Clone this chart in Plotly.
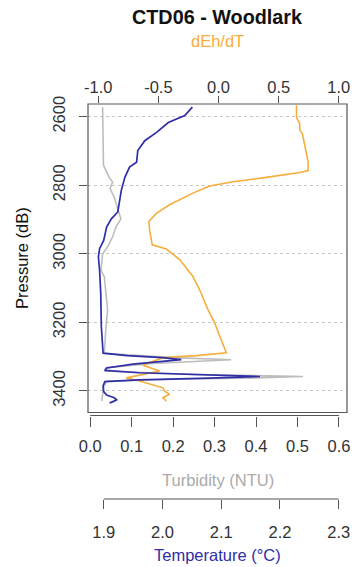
import plotly.graph_objects as go

# ---------------- data ----------------
# Temperature (deg C) profile
temp_p = [2572, 2597, 2617, 2646, 2670, 2699, 2733, 2747, 2777, 2815, 2878, 2898,
          2922, 2961, 2985, 3009, 3048, 3116, 3213, 3290, 3297, 3303, 3309, 3314,
          3322, 3333, 3340, 3347, 3353, 3358, 3363, 3368, 3373, 3385, 3402, 3412,
          3420, 3426, 3432, 3435]
temp_v = [2.051, 2.038, 2.010, 1.990, 1.970, 1.958, 1.956, 1.944, 1.936, 1.930, 1.924, 1.913,
          1.905, 1.900, 1.893, 1.891, 1.893, 1.895, 1.896, 1.899, 1.940, 2.000, 2.032, 2.000,
          1.950, 1.905, 1.902, 1.960, 2.080, 2.166, 2.080, 1.960, 1.902, 1.899, 1.900, 1.905,
          1.918, 1.922, 1.915, 1.910]

# Turbidity (NTU) profile
turb_p = [2572, 2700, 2740, 2747, 2777, 2791, 2810, 2835, 2864, 2898, 2922, 2951,
          2980, 3000, 3048, 3067, 3164, 3213, 3290, 3303, 3309, 3315, 3320, 3332,
          3342, 3352, 3358, 3362, 3366, 3372, 3390, 3410, 3430]
turb_v = [0.030, 0.032, 0.032, 0.034, 0.046, 0.054, 0.048, 0.058, 0.066, 0.074, 0.062, 0.054,
          0.042, 0.030, 0.026, 0.034, 0.042, 0.038, 0.034, 0.200, 0.340, 0.250, 0.150, 0.040,
          0.035, 0.250, 0.513, 0.400, 0.200, 0.040, 0.032, 0.030, 0.028]

# dEh/dT profile
dehdt_p = [2567, 2601, 2610, 2620, 2639, 2649, 2668, 2697, 2717, 2732, 2757, 2763,
           2777, 2790, 2802, 2814, 2823, 2857, 2882, 2906, 2930, 2974, 2986, 3017,
           3066, 3105, 3163, 3202, 3241, 3289, 3297, 3303, 3325, 3342, 3362, 3371,
           3391, 3401, 3410, 3420, 3430]
dehdt_v = [0.648, 0.648, 0.660, 0.675, 0.675, 0.697, 0.708, 0.725, 0.731, 0.745, 0.745, 0.675,
           0.398, 0.120, -0.074, -0.157, -0.213, -0.407, -0.517, -0.579, -0.573, -0.551, -0.434, -0.323,
           -0.213, -0.157, -0.088, -0.032, 0.010, 0.065, -0.184, -0.462, -0.629, -0.490, -0.767, -0.656,
           -0.462, -0.448, -0.407, -0.462, -0.434]

p_ticks = [2600, 2800, 3000, 3200, 3400]
dehdt_ticks = [-1.0, -0.5, 0.0, 0.5, 1.0]
turb_ticks = [0.0, 0.1, 0.2, 0.3, 0.4, 0.5, 0.6]
temp_ticks = [1.9, 2.0, 2.1, 2.2, 2.3]

# ---------------- style ----------------
FONT = "Liberation Sans, Arial, sans-serif"
FS = 16.5
BLUE = "#2e2ea6"
ORANGE = "#f5ae3c"
GREY = "#bdbdbd"
AX = "#555555"
TXT = "#333333"

W, H = 352, 567
L, R, T, B = 88, 5, 104, 68
ph = H - T - B
def py(pix):  # pixel y -> paper y
    return (H - B - pix) / ph
def px(pix):
    return (pix - L) / (W - L - R)

ybot = py(412.5)
turb_pos = py(415.5)

fig = go.Figure()
fig.add_trace(go.Scatter(x=dehdt_v, y=dehdt_p, xaxis="x2", yaxis="y", mode="lines",
                         line=dict(color=ORANGE, width=1.6), showlegend=False))
fig.add_trace(go.Scatter(x=turb_v, y=turb_p, xaxis="x", yaxis="y", mode="lines",
                         line=dict(color=GREY, width=1.6), showlegend=False))
fig.add_trace(go.Scatter(x=temp_v, y=temp_p, xaxis="x3", yaxis="y", mode="lines",
                         line=dict(color=BLUE, width=1.7), showlegend=False))

tickfont = dict(family=FONT, size=FS, color=TXT)

fig.update_layout(
    width=W, height=H, margin=dict(l=L, r=R, t=T, b=B, autoexpand=False),
    paper_bgcolor="white", plot_bgcolor="white",
    font=dict(family=FONT, size=FS, color=TXT),
    yaxis=dict(domain=[ybot, 1], range=[3463, 2563], tickvals=p_ticks,
               ticks="outside", ticklen=8, tickcolor=AX, tickwidth=1,
               tickangle=-90, tickfont=tickfont, ticklabelstandoff=7,
               showline=False, zeroline=False, automargin=False,
               showgrid=True, gridcolor="#c8c8c8", griddash="dot", gridwidth=1),
    xaxis=dict(anchor="free", position=turb_pos, range=[-0.0053, 0.6195],
               tickvals=turb_ticks, ticktext=[f"{v:.1f}" for v in turb_ticks],
               ticks="outside", ticklen=10, tickcolor=AX, tickfont=tickfont,
               ticklabelstandoff=6, showline=False, showgrid=False, zeroline=False,
               automargin=False),
    xaxis2=dict(overlaying="x", side="top", anchor="y", range=[-1.085, 1.068],
                tickvals=dehdt_ticks, ticktext=[f"{v:.1f}" for v in dehdt_ticks],
                ticks="outside", ticklen=7, tickcolor=AX, tickfont=tickfont,
                ticklabelstandoff=-4, showline=False, showgrid=False, zeroline=False,
                automargin=False),
    xaxis3=dict(overlaying="x", anchor="free", position=0, range=[1.8733, 2.3141],
                tickvals=temp_ticks, ticktext=[f"{v:.1f}" for v in temp_ticks],
                ticks="outside", ticklen=9, tickcolor=AX, tickfont=tickfont,
                ticklabelstandoff=9, showline=False, showgrid=False, zeroline=False,
                automargin=False),
)

shapes = [
    dict(type="rect", xref="paper", yref="paper", x0=0, x1=1, y0=ybot, y1=1,
         line=dict(color=AX, width=1.2), fillcolor="rgba(0,0,0,0)", layer="above"),
    dict(type="line", xref="x", yref="paper", x0=turb_ticks[0], x1=turb_ticks[-1],
         y0=turb_pos, y1=turb_pos, line=dict(color=AX, width=1.2)),
    dict(type="line", xref="x3", yref="paper", x0=temp_ticks[0], x1=temp_ticks[-1],
         y0=0, y1=0, line=dict(color=AX, width=1.2)),
]
fig.update_layout(shapes=shapes)

annotations = [
    dict(text="<b>CTD06 - Woodlark</b>", x=0.5, y=py(17.5), xref="paper", yref="paper",
         showarrow=False, font=dict(family=FONT, size=19.8, color="#111111"),
         xanchor="center", yanchor="middle"),
    dict(text="dEh/dT", x=0.5, y=py(41), xref="paper", yref="paper",
         showarrow=False, font=dict(family=FONT, size=FS, color=ORANGE),
         xanchor="center", yanchor="middle"),
    dict(text="Turbidity (NTU)", x=0.5, y=py(479.5), xref="paper", yref="paper",
         showarrow=False, font=dict(family=FONT, size=FS, color="#aaaaaa"),
         xanchor="center", yanchor="middle"),
    dict(text="Temperature (°C)", x=0.5, y=py(555), xref="paper", yref="paper",
         showarrow=False, font=dict(family=FONT, size=FS, color=BLUE),
         xanchor="center", yanchor="middle"),
    dict(text="Pressure (dB)", x=px(21.5), y=py(258.5), xref="paper", yref="paper",
         showarrow=False, textangle=-90, font=dict(family=FONT, size=FS, color="#111111"),
         xanchor="center", yanchor="middle"),
]
fig.update_layout(annotations=annotations)

fig.write_html("out.html", config={"displayModeBar": False},
               post_script="document.body.style.margin='0px';document.body.style.overflow='hidden';")
